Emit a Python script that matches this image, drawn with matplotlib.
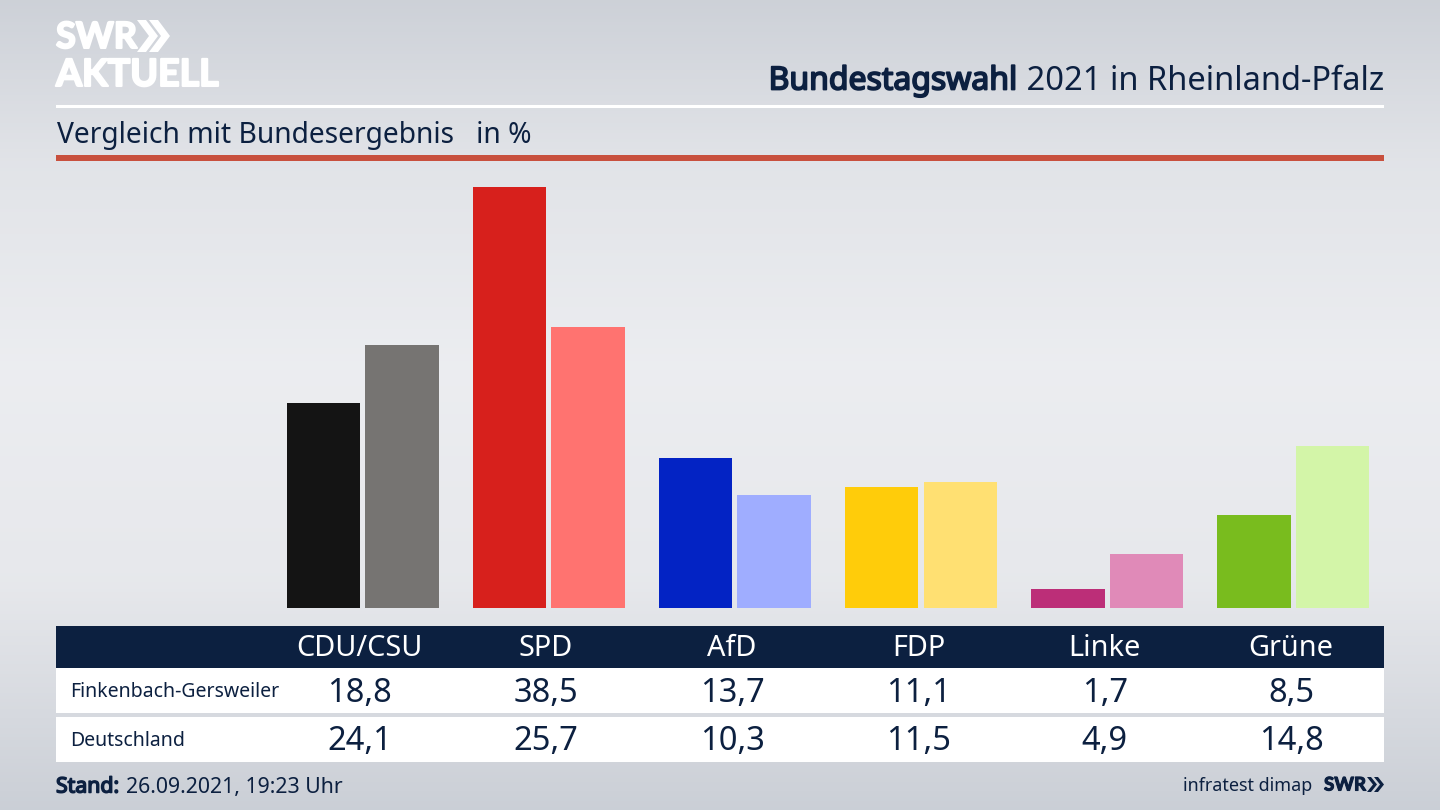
import numpy as np
import matplotlib
matplotlib.use("Agg")
import matplotlib.pyplot as plt
import matplotlib.patheffects as pe
from matplotlib.patches import Rectangle, Polygon

parties = ["CDU/CSU", "SPD", "AfD", "FDP", "Linke", "Grüne"]
local_name = "Finkenbach-Gersweiler"
national_name = "Deutschland"
local_values = [18.8, 38.5, 13.7, 11.1, 1.7, 8.5]
national_values = [24.1, 25.7, 10.3, 11.5, 4.9, 14.8]
local_colors = ["#141414", "#d7201c", "#0323c4", "#ffcc0a", "#bc2e78", "#79bc1e"]
national_colors = ["#767472", "#ff7370", "#9fadff", "#ffe072", "#e08ab8", "#d3f5a8"]

W, H = 1440, 810
NAVY = "#0c2040"
plt.rcParams["font.family"] = ["Noto Sans", "DejaVu Sans"]

fig = plt.figure(figsize=(W / 100, H / 100), dpi=100)

bg = fig.add_axes([0, 0, 1, 1], zorder=0)
bg.set_xlim(0, W)
bg.set_ylim(H, 0)
bg.axis("off")
stops = [0.0, 0.2, 0.45, 0.72, 1.0]
shades = np.array([[0.805, 0.82, 0.847], [0.885, 0.893, 0.91], [0.925, 0.93, 0.943],
                   [0.905, 0.91, 0.925], [0.795, 0.812, 0.84]])
t = np.linspace(0, 1, 256)
grad = np.stack([np.interp(t, stops, shades[:, c]) for c in range(3)], axis=1)
bg.imshow(grad[:, None, :], extent=[0, W, H, 0], aspect="auto", zorder=0)


def rect(x0, y0, x1, y1, color, z=1):
    bg.add_patch(Rectangle((x0, y0), x1 - x0, y1 - y0, fc=color, ec="none", zorder=z))


def chevrons(x, y0, y1, w, step, thick, color):
    m = (y0 + y1) / 2
    for k in range(2):
        xx = x + k * step
        bg.add_patch(Polygon([(xx, y0), (xx + thick, y0), (xx + w, m), (xx + thick, y1), (xx, y1), (xx + w - thick, m)],
                             closed=True, fc=color, ec="none", zorder=3))


def heavy(width, color):
    return [pe.withStroke(linewidth=width, foreground=color)]


rect(56, 104.5, 1384, 107.5, "white")
rect(56, 155, 1384, 160.5, "#c8503e")
rect(56, 626, 1384, 668, NAVY)
rect(56, 668, 1384, 713, "white")
rect(56, 717, 1384, 762, "white")

bg.text(56, 37.5, "SWR", color="white", fontsize=26, family="Lato", va="center", ha="left", zorder=3,
        fontweight="bold", path_effects=heavy(1.5, "white"))
chevrons(137, 20, 52, 21, 12, 9, "white")
bg.text(56, 75, "AKTUELL", color="white", fontsize=27, family="Lato", va="center", ha="left", zorder=3,
        fontweight="bold", path_effects=heavy(1.5, "white"))

title = bg.text(1384, 81, " 2021 in Rheinland-Pfalz", color=NAVY, fontsize=23.5, ha="right", va="center", zorder=3)
fig.canvas.draw()
tb = title.get_window_extent()
bg.text(tb.x0, 81, "Bundestagswahl", color=NAVY, fontsize=23, ha="right", va="center", zorder=3,
        path_effects=heavy(1.3, NAVY))
bg.text(57, 135, "Vergleich mit Bundesergebnis   in %", color=NAVY, fontsize=20.3, ha="left", va="center", zorder=3)

ax = fig.add_axes([270 / W, 1 - 608 / H, (1384 - 270) / W, (608 - 170) / H], zorder=1)
px_per_group = 186.1
px_per_unit = 10.93
ax.set_xlim((270 - 362.7) / px_per_group, (1384 - 362.7) / px_per_group)
ax.set_ylim(0, (608 - 170) / px_per_unit)
ax.axis("off")
x = np.arange(len(parties))
bw = 73.3 / px_per_group
off = 39.2 / px_per_group
ax.bar(x - off, local_values, bw, color=local_colors, linewidth=0)
ax.bar(x + off, national_values, bw, color=national_colors, linewidth=0)

centers = [359.5 + 186.3 * i for i in range(len(parties))]
for c, p, a, b in zip(centers, parties, local_values, national_values):
    bg.text(c, 649, p, color="white", fontsize=20.8, ha="center", va="center", zorder=3)
    bg.text(c, 693, f"{a:.1f}".replace(".", ","), color=NAVY, fontsize=23.5, ha="center", va="center", zorder=3)
    bg.text(c, 742, f"{b:.1f}".replace(".", ","), color=NAVY, fontsize=23.5, ha="center", va="center", zorder=3)
bg.text(70, 692, local_name, color=NAVY, fontsize=14, ha="left", va="center", zorder=3)
bg.text(70, 741, national_name, color=NAVY, fontsize=14, ha="left", va="center", zorder=3)

bg.text(56, 787, "Stand:", color=NAVY, fontsize=15.3, ha="left", va="center", zorder=3,
        path_effects=heavy(1.1, NAVY))
bg.text(126, 787, "26.09.2021, 19:23 Uhr", color=NAVY, fontsize=15.3, ha="left", va="center", zorder=3)
bg.text(1312, 786, "infratest dimap", color=NAVY, fontsize=12.9, ha="right", va="center", zorder=3)
bg.text(1324, 785, "SWR", color=NAVY, fontsize=13.5, fontweight="bold", family="Lato", ha="left", va="center", zorder=3,
        path_effects=heavy(0.8, NAVY))
chevrons(1367, 777, 792, 10, 7, 4, NAVY)

fig.savefig("out.png", dpi=100)
